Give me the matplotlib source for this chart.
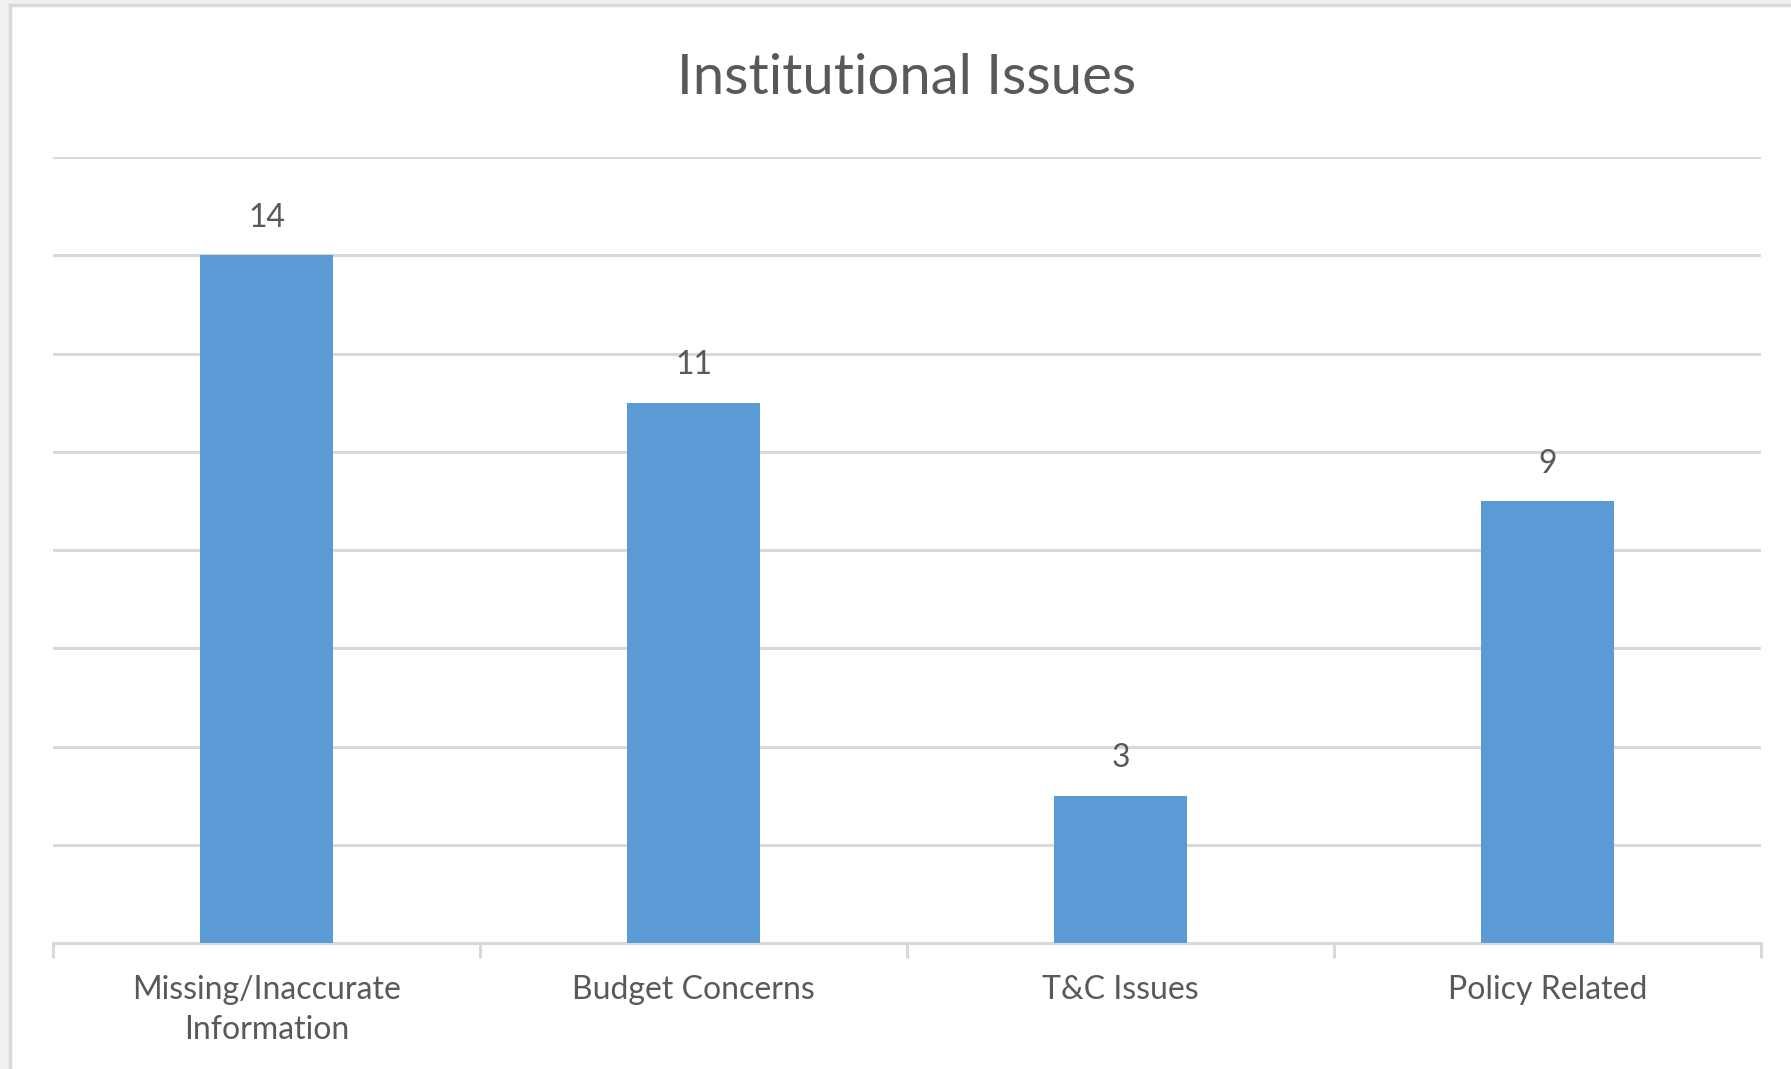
import matplotlib
matplotlib.use('Agg')
import matplotlib.pyplot as plt
from matplotlib.patches import Rectangle
import numpy as np

plt.rcParams['font.family'] = ['Lato', 'DejaVu Sans']

categories = ['Missing/Inaccurate\nInformation', 'Budget Concerns', 'T&C Issues', 'Policy Related']
values = [14, 11, 3, 9]
title = 'Institutional Issues'

bar_color = '#5b9bd5'
grid_color = '#d9d9d9'
text_color = '#595959'

fig = plt.figure(figsize=(17.91, 10.69), dpi=100)
fig.patch.set_facecolor('#f0f0f0')
# white chart area with light border
fig.patches.append(Rectangle((10 / 1791, -0.01), 1.02, 1 - 5 / 1069 + 0.01,
                             transform=fig.transFigure, facecolor='white',
                             edgecolor='#d9d9d9', linewidth=2.5, zorder=-10))

ax = fig.add_axes([53 / 1791, 1 - 943 / 1069, (1761 - 53) / 1791, (943 - 157) / 1069])
ax.set_facecolor('none')
ax.set_zorder(1)

x = np.arange(len(categories))
bars = ax.bar(x, values, width=0.31, color=bar_color, zorder=3)

ax.set_xlim(-0.5, len(categories) - 0.5)
ax.set_ylim(0, 16)
ax.set_yticks(np.arange(0, 17, 2))
ax.yaxis.grid(True, color=grid_color, linewidth=2.2)
ax.set_axisbelow(True)
ax.tick_params(axis='y', left=False, labelleft=False)

for s in ['top', 'right', 'left']:
    ax.spines[s].set_visible(False)
ax.spines['bottom'].set_color(grid_color)
ax.spines['bottom'].set_linewidth(2.2)

ax.set_xticks(x)
ax.set_xticklabels(categories, fontsize=23, color=text_color, linespacing=1.4)
ax.tick_params(axis='x', which='major', length=0, pad=23)
ax.set_xticks(np.arange(-0.5, len(categories), 1), minor=True)
ax.tick_params(axis='x', which='minor', length=11, width=2.2, color=grid_color)

for b, v in zip(bars, values):
    ax.annotate(str(v), (b.get_x() + b.get_width() / 2, v), xytext=(0, 16),
                textcoords='offset points', ha='center', va='bottom',
                fontsize=23, color=text_color)

fig.text(907 / 1791, 1 - 78 / 1069, title, ha='center', va='center',
         fontsize=40.5, color=text_color)

fig.savefig('out.png', dpi=100, facecolor=fig.get_facecolor())
